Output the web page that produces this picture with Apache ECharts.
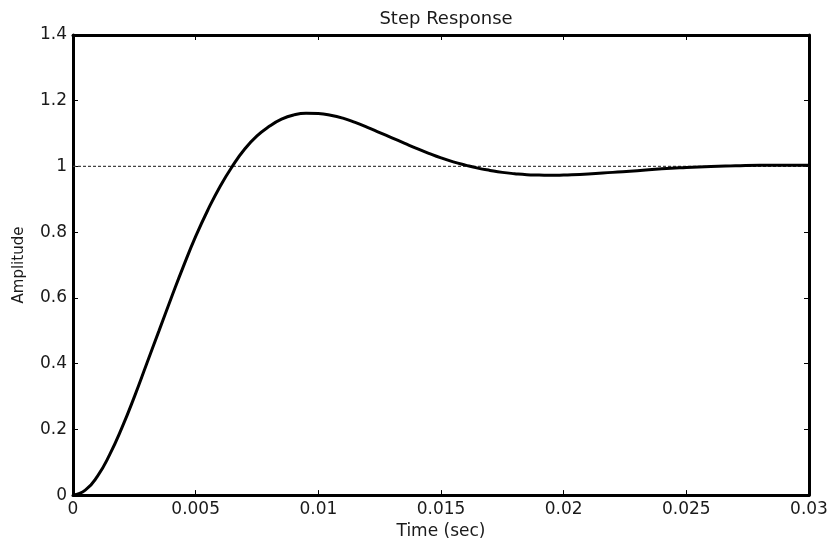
<!DOCTYPE html>
<html>
<head>
<meta charset="utf-8">
<script src="https://cdn.jsdelivr.net/npm/echarts@6/dist/echarts.min.js"></script>
<style>
html,body{margin:0;padding:0;background:#fff;}
#chart{width:831px;height:545px;}
</style>
</head>
<body>
<div id="chart"></div>
<script>
// Data
const timeSec = [0, 0.0005, 0.001, 0.0015, 0.002, 0.0025, 0.003, 0.0035, 0.004, 0.0045,
  0.005, 0.0055, 0.006, 0.0065, 0.007, 0.0075, 0.008, 0.0085, 0.009, 0.0095,
  0.01, 0.0105, 0.011, 0.0115, 0.012, 0.0125, 0.013, 0.0135, 0.014, 0.0145,
  0.015, 0.0155, 0.016, 0.0165, 0.017, 0.0175, 0.018, 0.0185, 0.019, 0.0195,
  0.02, 0.021, 0.022, 0.023, 0.024, 0.025, 0.026, 0.027, 0.028, 0.029, 0.03];
const amplitude = [0, 0.015, 0.058, 0.124, 0.206, 0.299, 0.399, 0.499, 0.599, 0.696,
  0.787, 0.868, 0.940, 1.001, 1.053, 1.093, 1.122, 1.144, 1.157, 1.162,
  1.161, 1.156, 1.147, 1.134, 1.119, 1.103, 1.087, 1.071, 1.055, 1.040,
  1.026, 1.014, 1.004, 0.995, 0.988, 0.982, 0.978, 0.975, 0.974, 0.973,
  0.974, 0.977, 0.982, 0.987, 0.993, 0.997, 1.000, 1.002, 1.004, 1.004, 1.004];
const steadyTime = [0, 0.03];
const steadyValue = [1, 1];
const xTicks = [0, 0.005, 0.01, 0.015, 0.02, 0.025, 0.03];
const yTicks = [0, 0.2, 0.4, 0.6, 0.8, 1, 1.2, 1.4];

const FONT = 'DejaVu Sans';
const TXT = '#1a1a1a';
const chart = echarts.init(document.getElementById('chart'), null, {renderer: 'canvas'});

const axisLine = {show: true, onZero: false, lineStyle: {color: '#000', width: 3}};
const axisTick = {show: true, inside: true, length: 5, lineStyle: {color: '#000', width: 1}};

chart.setOption({
  backgroundColor: '#fff',
  animation: false,
  title: {
    text: 'Step Response',
    left: 441, top: 5, textAlign: 'center',
    textStyle: {fontFamily: FONT, fontSize: 18, fontWeight: 'normal', color: TXT}
  },
  grid: {left: 73, right: 22, top: 35, bottom: 48, containLabel: false},
  xAxis: [{
    type: 'value', position: 'bottom',
    min: xTicks[0], max: xTicks[xTicks.length - 1], interval: xTicks[1] - xTicks[0],
    name: 'Time (sec)', nameLocation: 'middle', nameGap: 26,
    nameTextStyle: {fontFamily: FONT, fontSize: 17, color: TXT},
    axisLine: axisLine, axisTick: axisTick,
    axisLabel: {fontFamily: FONT, fontSize: 17, color: TXT, margin: 6, showMaxLabel: true, showMinLabel: true},
    splitLine: {show: false}
  }, {
    type: 'value', position: 'top',
    min: xTicks[0], max: xTicks[xTicks.length - 1], interval: xTicks[1] - xTicks[0],
    axisLine: axisLine, axisTick: axisTick,
    axisLabel: {show: false}, splitLine: {show: false}
  }],
  yAxis: [{
    type: 'value', position: 'left',
    min: yTicks[0], max: yTicks[yTicks.length - 1], interval: yTicks[1] - yTicks[0],
    name: 'Amplitude', nameLocation: 'middle', nameGap: 46, nameRotate: 90,
    nameTextStyle: {fontFamily: FONT, fontSize: 15, color: TXT},
    axisLine: axisLine, axisTick: axisTick,
    axisLabel: {fontFamily: FONT, fontSize: 17, color: TXT, margin: 6},
    splitLine: {show: false}
  }, {
    type: 'value', position: 'right',
    min: yTicks[0], max: yTicks[yTicks.length - 1], interval: yTicks[1] - yTicks[0],
    axisLine: axisLine, axisTick: axisTick,
    axisLabel: {show: false}, splitLine: {show: false}
  }],
  series: [{
    type: 'line',
    xAxisIndex: 0, yAxisIndex: 0,
    data: steadyTime.map((t, i) => [t, steadyValue[i]]),
    showSymbol: false, silent: true,
    lineStyle: {color: '#444', width: 1.3, type: [3, 2]},
    z: 2
  }, {
    type: 'line',
    xAxisIndex: 0, yAxisIndex: 0,
    data: timeSec.map((t, i) => [t, amplitude[i]]),
    showSymbol: false, smooth: 0.5,
    lineStyle: {color: '#000', width: 3},
    z: 3
  }]
});
</script>
</body>
</html>
